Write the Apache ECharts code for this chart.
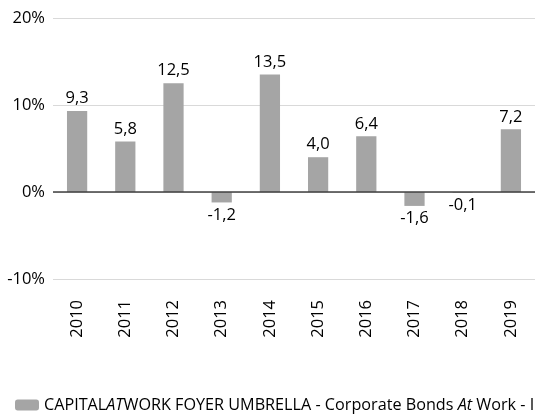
<!DOCTYPE html>
<html>
<head>
<meta charset="utf-8">
<script src="https://cdn.jsdelivr.net/npm/echarts@6/dist/echarts.min.js"></script>
<style>
html, body { margin: 0; padding: 0; background: #fff; }
#chart { width: 542px; height: 414px; }
</style>
</head>
<body>
<div id="chart"></div>
<script>
// Jaarrendementen
var years = ['2010', '2011', '2012', '2013', '2014', '2015', '2016', '2017', '2018', '2019'];
var returns = [9.3, 5.8, 12.5, -1.2, 13.5, 4.0, 6.4, -1.6, -0.1, 7.2];
var yTicks = [-10, 0, 10, 20];
var seriesName = 'CAPITALATWORK FOYER UMBRELLA - Corporate Bonds At Work - I';

var font = 'Open Sans';
var fs = 16.5;
var myChart = echarts.init(document.getElementById('chart'));

var barData = returns.map(function(v) {
	return {
		value: v,
		label: { position: v < 0 ? 'bottom' : 'top' }
	};
});

var option = {
	backgroundColor: '#fff',
	animation: false,
	textStyle: { fontFamily: font },
	grid: { left: 53, right: 7, top: 18, bottom: 135 },
	legend: {
		left: 10,
		top: 392,
		itemWidth: 24,
		itemHeight: 11,
		itemGap: 6,
		data: [seriesName],
		formatter: function() {
			return '{n|CAPITAL}{i|AT}{n|WORK FOYER UMBRELLA - Corporate Bonds }{i|At}{n| Work - I}';
		},
		textStyle: {
			rich: {
				n: { fontFamily: font, fontSize: 16.2, color: '#000' },
				i: { fontFamily: font, fontSize: 16.2, color: '#000', fontStyle: 'italic' }
			}
		}
	},
	xAxis: {
		type: 'category',
		data: years,
		axisLine: { show: false },
		axisTick: { show: false },
		axisLabel: {
			rotate: 90,
			margin: 21,
			fontSize: fs,
			color: '#000',
			fontFamily: font
		}
	},
	yAxis: {
		type: 'value',
		min: yTicks[0],
		max: yTicks[yTicks.length - 1],
		interval: 10,
		axisLine: { show: false },
		axisTick: { show: false },
		splitLine: { lineStyle: { color: '#d9d9d9', width: 1 } },
		axisLabel: {
			margin: 8,
			fontSize: fs,
			color: '#000',
			fontFamily: font,
			formatter: function(v) { return v + '%'; }
		}
	},
	series: [{
		name: seriesName,
		type: 'bar',
		barWidth: '42%',
		itemStyle: { color: '#a5a5a5' },
		label: {
			show: true,
			distance: 4,
			fontSize: fs,
			color: '#000',
			fontFamily: font,
			formatter: function(p) { return p.value.toFixed(1).replace('.', ','); }
		},
		markLine: {
			silent: true,
			symbol: 'none',
			label: { show: false },
			lineStyle: { color: '#404040', width: 1.5, type: 'solid' },
			data: [{ yAxis: 0 }]
		},
		data: barData
	}]
};
myChart.setOption(option);
</script>
</body>
</html>
